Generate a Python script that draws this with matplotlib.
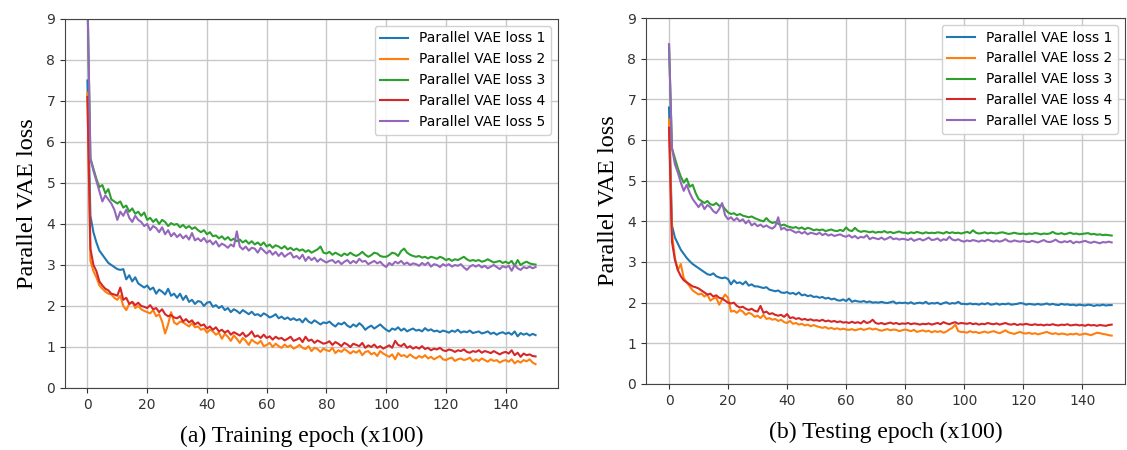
import matplotlib
matplotlib.use("Agg")
import matplotlib.pyplot as plt
import numpy as np

# ---- data (epoch x100, one value per epoch 0..150) ----
epochs = list(range(151))

train_loss1 = [
    7.5, 4.2, 3.8, 3.55, 3.35, 3.25, 3.15, 3.05, 3.0, 2.95,
    2.9, 2.88, 2.9, 2.65, 2.75, 2.6, 2.7, 2.55, 2.5, 2.45,
    2.5, 2.4, 2.45, 2.3, 2.4, 2.35, 2.28, 2.42, 2.25, 2.3,
    2.2, 2.3, 2.15, 2.25, 2.1, 2.15, 2.05, 2.12, 2.1, 2.0,
    2.08, 2.1, 1.98, 2.02, 1.95, 2.0, 1.9, 1.95, 1.85, 1.92,
    1.88, 1.82, 1.9, 1.85, 1.8, 1.86, 1.78, 1.8, 1.75, 1.82,
    1.78, 1.72, 1.75, 1.8, 1.7, 1.74, 1.68, 1.72, 1.66, 1.7,
    1.65, 1.68, 1.6, 1.7, 1.62, 1.58, 1.65, 1.6, 1.55, 1.6,
    1.58, 1.62, 1.55, 1.5, 1.58, 1.55, 1.6, 1.52, 1.48, 1.55,
    1.5, 1.58, 1.52, 1.42, 1.48, 1.52, 1.45, 1.5, 1.55, 1.48,
    1.42, 1.38, 1.45, 1.42, 1.48, 1.4, 1.45, 1.38, 1.42, 1.45,
    1.4, 1.42, 1.38, 1.46, 1.4, 1.43, 1.38, 1.4, 1.36, 1.4,
    1.38, 1.35, 1.4, 1.37, 1.42, 1.35, 1.38, 1.36, 1.4, 1.34,
    1.36, 1.38, 1.33, 1.35, 1.38, 1.32, 1.35, 1.3, 1.34, 1.36,
    1.32, 1.35, 1.3, 1.38, 1.26, 1.34, 1.3, 1.33, 1.28, 1.32,
    1.29]
train_loss2 = [
    7.2, 3.1, 2.85, 2.7, 2.5, 2.42, 2.35, 2.3, 2.28, 2.2,
    2.15, 2.25, 2.0, 1.9, 2.05, 2.1, 1.95, 2.0, 1.92, 1.88,
    1.85, 1.82, 1.9, 1.75, 1.8, 1.62, 1.33, 1.55, 1.85, 1.6,
    1.55, 1.62, 1.6, 1.55, 1.5, 1.58, 1.48, 1.5, 1.42, 1.45,
    1.35, 1.42, 1.38, 1.3, 1.35, 1.2, 1.32, 1.25, 1.15, 1.28,
    1.2, 1.1, 1.22, 1.15, 1.05, 1.18, 1.12, 1.08, 1.15, 1.02,
    1.05, 1.1, 1.0, 1.08, 1.02, 0.98, 1.06, 1.0, 1.04, 0.96,
    1.0, 1.05, 0.98, 0.95, 1.02, 0.9, 0.98, 0.95, 0.88, 0.96,
    0.92, 0.9, 0.98, 0.85, 0.92, 0.88, 0.95, 0.9, 0.84, 0.9,
    0.86, 0.92, 0.8, 0.88, 0.9, 0.82, 0.86, 0.78, 0.9, 0.84,
    0.8, 0.76, 0.82, 0.7, 0.85, 0.78, 0.8, 0.75, 0.82, 0.76,
    0.72, 0.78, 0.74, 0.8, 0.72, 0.76, 0.7, 0.74, 0.78, 0.7,
    0.68, 0.72, 0.74, 0.66, 0.7, 0.72, 0.68, 0.7, 0.74, 0.65,
    0.7, 0.66, 0.72, 0.68, 0.64, 0.7, 0.66, 0.68, 0.62, 0.66,
    0.68, 0.64, 0.7, 0.6, 0.66, 0.62, 0.68, 0.65, 0.7, 0.62,
    0.58]
train_loss3 = [
    9.6, 5.6, 5.35, 5.1, 4.9, 4.95, 4.75, 4.85, 4.6, 4.55,
    4.5, 4.55, 4.4, 4.45, 4.3, 4.38, 4.25, 4.3, 4.2, 4.28,
    4.1, 4.15, 4.05, 4.12, 4.0, 4.1, 4.05, 3.95, 4.02, 3.98,
    4.0, 3.92, 3.98, 3.9, 3.95, 3.88, 3.92, 3.85, 3.8, 3.85,
    3.75, 3.8, 3.7, 3.72, 3.65, 3.7, 3.62, 3.68, 3.6, 3.64,
    3.58, 3.62, 3.55, 3.6, 3.52, 3.58, 3.5, 3.55, 3.48, 3.55,
    3.45, 3.5, 3.42, 3.48, 3.45, 3.4, 3.46, 3.38, 3.42, 3.36,
    3.4, 3.35, 3.38, 3.32, 3.36, 3.3, 3.34, 3.38, 3.45, 3.3,
    3.28, 3.32, 3.25, 3.3, 3.26, 3.22, 3.28, 3.24, 3.3, 3.25,
    3.22, 3.26, 3.32, 3.25, 3.2, 3.24, 3.3, 3.28, 3.22, 3.2,
    3.2, 3.24, 3.3, 3.28, 3.22, 3.34, 3.4, 3.3, 3.25, 3.22,
    3.2, 3.22, 3.18, 3.2, 3.16, 3.2, 3.18, 3.15, 3.2, 3.17,
    3.12, 3.15, 3.1, 3.14, 3.12, 3.16, 3.2, 3.14, 3.1, 3.12,
    3.1, 3.12, 3.08, 3.1, 3.14, 3.1, 3.06, 3.08, 3.1, 3.05,
    3.08, 3.04, 3.1, 2.98, 3.12, 3.0, 3.05, 3.08, 3.04, 3.02,
    3.01]
train_loss4 = [
    7.1, 3.4, 3.0, 2.85, 2.6, 2.5, 2.42, 2.38, 2.3, 2.28,
    2.25, 2.45, 2.15, 2.2, 2.05, 2.1, 2.02, 2.08, 2.0, 1.98,
    1.95, 2.02, 1.92, 1.95, 1.85, 1.92, 1.8, 1.75, 1.78, 1.72,
    1.7, 1.75, 1.62, 1.68, 1.6, 1.65, 1.55, 1.6, 1.52, 1.55,
    1.45, 1.5, 1.42, 1.48, 1.38, 1.42, 1.35, 1.4, 1.3, 1.36,
    1.32, 1.28, 1.35, 1.25, 1.3, 1.38, 1.25, 1.28, 1.22, 1.3,
    1.22, 1.26, 1.18, 1.25, 1.2, 1.22, 1.16, 1.2, 1.25, 1.15,
    1.18, 1.22, 1.12, 1.25, 1.15, 1.18, 1.1, 1.16, 1.12, 1.08,
    1.1, 1.14, 1.05, 1.12, 1.08, 1.02, 1.1, 1.06, 1.0, 1.08,
    1.05, 1.02, 1.1, 0.98, 1.04, 1.0, 1.06, 0.98, 1.02, 0.96,
    1.0, 1.04, 0.98, 1.15, 1.05, 1.02, 1.08, 0.98, 1.02, 0.96,
    1.0, 0.96, 1.02, 0.95, 0.98, 0.92, 0.96, 0.94, 0.98, 0.92,
    0.9, 0.94, 0.92, 0.88, 0.92, 0.9, 0.94, 0.88, 0.86, 0.9,
    0.88, 0.92, 0.86, 0.9, 0.88, 0.85, 0.9, 0.86, 0.82, 0.86,
    0.88, 0.84, 0.92, 0.8, 0.86, 0.76, 0.84, 0.8, 0.82, 0.78,
    0.77]
train_loss5 = [
    9.6, 5.6, 5.3, 5.05, 4.8, 4.55, 4.7, 4.6, 4.5, 4.35,
    4.1, 4.3, 4.2, 4.35, 4.15, 4.05, 4.2, 4.1, 4.05, 3.95,
    4.0, 3.85, 3.95, 3.9, 3.8, 3.92, 3.75, 3.85, 3.7, 3.78,
    3.68, 3.75, 3.65, 3.72, 3.62, 3.78, 3.6, 3.65, 3.58, 3.66,
    3.55, 3.6, 3.5, 3.58, 3.45, 3.52, 3.48, 3.42, 3.5, 3.45,
    3.82, 3.45, 3.38, 3.45, 3.35, 3.42, 3.4, 3.3, 3.42, 3.35,
    3.28, 3.35, 3.25, 3.32, 3.22, 3.3, 3.2, 3.26, 3.3, 3.18,
    3.22, 3.15, 3.25, 3.1, 3.2, 3.12, 3.18, 3.08, 3.15, 3.1,
    3.06, 3.1, 3.12, 3.05, 3.1, 3.02, 3.08, 3.12, 3.04, 3.1,
    3.05, 3.15, 3.08, 3.1, 3.02, 3.06, 3.1, 3.04, 3.08, 3.0,
    2.95, 3.05, 3.0, 3.08, 3.04, 3.1, 3.02, 3.06, 3.0, 3.04,
    3.02, 2.98, 3.05, 3.0, 3.06, 2.96, 3.02, 3.0, 2.95, 3.02,
    2.98, 3.02, 2.96, 3.0, 2.98, 3.02, 2.94, 2.88, 2.96, 3.0,
    2.96, 3.0, 2.94, 2.98, 2.92, 2.96, 3.0, 2.95, 2.9, 2.97,
    2.94, 2.98, 2.86, 3.0, 2.92, 2.88, 2.95, 2.92, 2.96, 2.92,
    2.95]

test_loss1 = [
    6.8, 3.9, 3.6, 3.45, 3.3, 3.2, 3.1, 3.02, 2.95, 2.9,
    2.85, 2.8, 2.75, 2.7, 2.68, 2.72, 2.65, 2.62, 2.6, 2.62,
    2.58, 2.45, 2.55, 2.48, 2.5, 2.45, 2.52, 2.42, 2.45, 2.4,
    2.4, 2.38, 2.36, 2.38, 2.32, 2.3, 2.28, 2.3, 2.25, 2.24,
    2.26, 2.22, 2.24, 2.2, 2.25, 2.18, 2.2, 2.16, 2.18, 2.14,
    2.15, 2.12, 2.14, 2.1, 2.12, 2.08, 2.1, 2.06, 2.05, 2.08,
    2.04, 2.1, 2.02, 2.05, 2.03, 2.02, 2.04, 2.01, 2.03, 2.0,
    2.01, 2.0, 2.02, 2.0, 1.99, 2.01, 2.03, 1.98, 2.0, 1.99,
    2.0, 1.98, 2.01, 1.97, 1.99, 2.0, 1.98, 2.02, 1.97, 1.99,
    1.98, 2.0, 1.96, 1.99, 2.01, 1.97, 1.99, 1.98, 2.02, 1.97,
    1.97, 1.96, 1.98, 1.96, 1.97, 1.95, 1.98, 1.96, 1.99, 1.95,
    1.96, 1.98, 1.95, 1.97, 1.96, 1.98, 1.95, 1.96, 1.97, 1.99,
    1.98, 1.95, 1.97, 1.96, 1.95, 1.97, 1.95, 1.96, 1.98, 1.95,
    1.97, 1.95, 1.94, 1.97, 1.95, 1.96, 1.94, 1.95, 1.93, 1.95,
    1.94, 1.93, 1.95, 1.94, 1.92, 1.94, 1.93, 1.95, 1.93, 1.94,
    1.94]
test_loss2 = [
    6.5, 3.7, 3.1, 2.8, 2.95, 2.6, 2.5, 2.4, 2.3, 2.25,
    2.2, 2.22, 2.15, 2.2, 2.05, 2.1, 2.12, 1.95, 2.08, 2.2,
    2.12, 1.78, 1.8, 1.75, 1.82, 1.78, 1.7, 1.75, 1.72, 1.65,
    1.68, 1.62, 1.7, 1.6, 1.62, 1.58, 1.6, 1.55, 1.58, 1.52,
    1.5, 1.55, 1.48, 1.5, 1.46, 1.48, 1.44, 1.46, 1.42, 1.45,
    1.42, 1.4, 1.38, 1.4, 1.36, 1.38, 1.35, 1.37, 1.34, 1.36,
    1.34, 1.33, 1.35, 1.32, 1.34, 1.36, 1.33, 1.35, 1.37, 1.34,
    1.36, 1.33, 1.31, 1.33, 1.35, 1.32, 1.34, 1.33, 1.3, 1.32,
    1.34, 1.32, 1.3, 1.33, 1.28, 1.3, 1.32, 1.29, 1.31, 1.27,
    1.3, 1.28, 1.3, 1.26, 1.29, 1.34, 1.38, 1.46, 1.3, 1.28,
    1.28, 1.26, 1.3, 1.27, 1.28, 1.25, 1.27, 1.29, 1.26, 1.28,
    1.3, 1.27, 1.25, 1.28, 1.32, 1.27, 1.25, 1.23, 1.26, 1.28,
    1.25, 1.24, 1.26, 1.23, 1.25, 1.22, 1.24, 1.26, 1.28, 1.25,
    1.23, 1.25, 1.22, 1.24, 1.23, 1.21, 1.23, 1.22, 1.24, 1.21,
    1.22, 1.24, 1.22, 1.2, 1.23, 1.26, 1.25, 1.23, 1.22, 1.2,
    1.19]
test_loss3 = [
    8.35, 5.8, 5.55, 5.3, 5.1, 4.95, 5.05, 4.85, 4.9, 4.7,
    4.55, 4.5, 4.45, 4.5, 4.42, 4.4, 4.45, 4.38, 4.4, 4.3,
    4.22, 4.18, 4.2, 4.15, 4.18, 4.14, 4.12, 4.1, 4.12, 4.08,
    4.05, 4.02, 4.0, 4.08, 4.0, 3.96, 3.98, 3.94, 3.9, 3.92,
    3.88, 3.86, 3.84, 3.86, 3.82, 3.85, 3.8, 3.84, 3.82, 3.78,
    3.8, 3.78, 3.8, 3.76, 3.78, 3.8, 3.77, 3.76, 3.79, 3.76,
    3.85, 3.78, 3.76, 3.84, 3.77, 3.74, 3.76, 3.75, 3.73, 3.75,
    3.72, 3.74, 3.73, 3.76, 3.72, 3.74, 3.71, 3.73, 3.75, 3.72,
    3.72, 3.7, 3.73, 3.71, 3.74, 3.72, 3.7, 3.73, 3.71, 3.72,
    3.71, 3.73, 3.72, 3.7, 3.74, 3.71, 3.73, 3.71, 3.72, 3.7,
    3.72, 3.74, 3.71, 3.78, 3.72, 3.7, 3.71, 3.73, 3.7, 3.72,
    3.71, 3.7, 3.72, 3.73, 3.71, 3.69, 3.7, 3.72, 3.7, 3.69,
    3.7, 3.68, 3.7, 3.69, 3.71, 3.7, 3.68, 3.7, 3.69, 3.7,
    3.74, 3.7, 3.69, 3.71, 3.68, 3.7, 3.72, 3.69, 3.7, 3.68,
    3.69, 3.7, 3.71, 3.68, 3.69, 3.67, 3.68, 3.66, 3.67, 3.66,
    3.65]
test_loss4 = [
    6.3, 3.5, 3.05, 2.8, 2.65, 2.55, 2.5, 2.45, 2.4, 2.38,
    2.35, 2.3, 2.25, 2.2, 2.22, 2.15, 2.18, 2.12, 2.1, 2.05,
    2.0, 1.98, 2.0, 1.92, 1.88, 1.9, 1.85, 1.82, 1.85, 1.8,
    1.78, 1.92, 1.75, 1.78, 1.72, 1.74, 1.7, 1.68, 1.7, 1.65,
    1.72, 1.62, 1.64, 1.6, 1.62, 1.58, 1.6, 1.57, 1.59, 1.56,
    1.57, 1.55, 1.58, 1.54, 1.56, 1.53, 1.55, 1.52, 1.54, 1.51,
    1.52, 1.5, 1.53, 1.5, 1.52, 1.49, 1.55, 1.5, 1.52, 1.58,
    1.5, 1.48, 1.5, 1.47, 1.49, 1.51, 1.48, 1.5, 1.47, 1.49,
    1.48, 1.5, 1.47, 1.49, 1.48, 1.46, 1.48, 1.47, 1.49, 1.46,
    1.48, 1.5, 1.47, 1.52, 1.49, 1.47, 1.5, 1.52, 1.48, 1.5,
    1.49, 1.48, 1.5, 1.47, 1.49, 1.46, 1.48, 1.47, 1.5, 1.48,
    1.47, 1.49, 1.46, 1.48, 1.5, 1.47, 1.46, 1.48, 1.45, 1.47,
    1.46, 1.48, 1.46, 1.45, 1.47, 1.45, 1.46, 1.44, 1.46, 1.45,
    1.47, 1.45, 1.44, 1.46, 1.45, 1.47, 1.44, 1.45, 1.46, 1.44,
    1.45, 1.43, 1.46, 1.44, 1.45, 1.43, 1.45, 1.44, 1.43, 1.45,
    1.46]
test_loss5 = [
    8.35, 5.8, 5.4, 5.2, 4.95, 4.75, 4.9, 4.7, 4.55, 4.45,
    4.35, 4.45, 4.3, 4.4, 4.35, 4.25, 4.2, 4.3, 4.45, 4.15,
    4.05, 4.1, 4.02, 4.08, 4.0, 4.05, 3.95, 4.02, 3.9, 3.95,
    3.88, 3.92, 3.86, 3.9, 3.85, 3.82, 3.88, 4.1, 3.8, 3.84,
    3.78, 3.8, 3.76, 3.72, 3.75, 3.7, 3.74, 3.68, 3.72, 3.7,
    3.68, 3.72, 3.66, 3.7, 3.65, 3.68, 3.64, 3.66, 3.68, 3.64,
    3.62, 3.66, 3.6, 3.64, 3.58, 3.62, 3.6, 3.66, 3.56, 3.6,
    3.58, 3.56, 3.6, 3.55, 3.58, 3.62, 3.56, 3.58, 3.55, 3.57,
    3.56, 3.54, 3.58, 3.52, 3.55, 3.57, 3.53, 3.56, 3.6, 3.54,
    3.55, 3.58, 3.52, 3.56, 3.54, 3.62, 3.55, 3.53, 3.56, 3.52,
    3.5, 3.53, 3.51, 3.54, 3.52, 3.5, 3.53, 3.51, 3.55, 3.52,
    3.5, 3.53, 3.5, 3.52, 3.56, 3.51, 3.5, 3.53, 3.51, 3.5,
    3.52, 3.5, 3.49, 3.52, 3.5, 3.48, 3.51, 3.54, 3.5, 3.49,
    3.51, 3.55, 3.5, 3.48, 3.51, 3.49, 3.52, 3.46, 3.5, 3.48,
    3.5, 3.52, 3.49, 3.47, 3.5, 3.48, 3.46, 3.49, 3.48, 3.5,
    3.48]

labels = ["Parallel VAE loss 1", "Parallel VAE loss 2", "Parallel VAE loss 3",
          "Parallel VAE loss 4", "Parallel VAE loss 5"]
colors = ["#1f77b4", "#ff7f0e", "#2ca02c", "#d62728", "#9467bd"]
train = [train_loss1, train_loss2, train_loss3, train_loss4, train_loss5]
test = [test_loss1, test_loss2, test_loss3, test_loss4, test_loss5]

serif = ["Liberation Serif", "DejaVu Serif"]

fig = plt.figure(figsize=(11.27, 4.5), dpi=100)
ax1 = fig.add_axes([0.0577, 0.1378, 0.4374, 0.82])
ax2 = fig.add_axes([0.5732, 0.1467, 0.425, 0.8133])

panels = [(ax1, train, "(a) Training epoch (x100)", (-7.5, 157.5), 0.48),
          (ax2, test, "(b) Testing epoch (x100)", (-7.8, 154.5), 0.5)]

for ax, series, xlab, xl, xpos in panels:
    for ys, lab, c in zip(series, labels, colors):
        ax.plot(epochs, ys, color=c, lw=1.5, label=lab)
    ax.set_xlim(*xl)
    ax.set_ylim(0, 9)
    ax.set_xticks(np.arange(0, 141, 20))
    ax.set_yticks(np.arange(0, 10, 1))
    ax.grid(True, color="#c8c8c8", lw=1.0)
    ax.tick_params(labelsize=10, colors="#333333")
    for s in ax.spines.values():
        s.set_color("#444444")
    ax.set_ylabel("Parallel VAE loss", fontsize=17.5, family=serif, labelpad=6)
    ax.set_xlabel(xlab, fontsize=17, family=serif, labelpad=10)
    ax.xaxis.label.set_x(xpos)
    ax.legend(loc="upper right", fontsize=10, framealpha=0.9,
              edgecolor="#cccccc", fancybox=True)

fig.savefig("out.png", dpi=100)
